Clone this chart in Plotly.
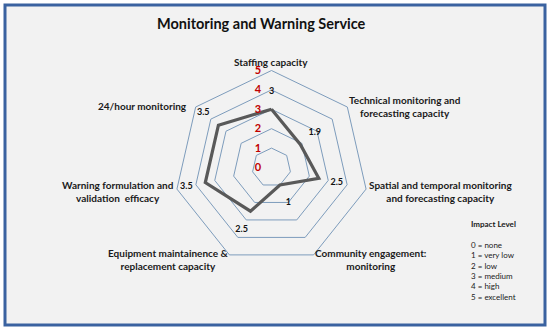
import plotly.graph_objects as go

# ---- data ----
categories = [
    "Staffing capacity",
    "Technical monitoring and<br>forecasting capacity",
    "Spatial and temporal monitoring<br>and forecasting capacity",
    "Community engagement:<br>monitoring",
    "Equipment maintainence &<br>replacement capacity",
    "Warning formulation and<br>validation  efficacy",
    "24/hour monitoring",
]
values = [3, 1.9, 2.5, 1, 2.5, 3.5, 3.5]
value_labels = ["3", "1.9", "2.5", "1", "2.5", "3.5", "3.5"]
radial_ticks = [0, 1, 2, 3, 4, 5]
legend_title = "Impact Level"
legend_lines = ["0 = none", "1 = very low", "2 = low", "3 = medium", "4 = high", "5 = excellent"]

# ---- style / positions ----
label_r = [3.9, 2.85, 3.45, 2.0, 3.55, 4.5, 4.5]
# category label centres in pixels (x, y of first line)
cat_label_pos = [(271, 61), (405, 99), (440, 184), (371, 252), (168, 252), (118, 184), (142, 105)]
FONT = "Lato"
GRID = "#7d9cbc"

W, H = 550, 329
cx, cy, R = 271.5, 167.5, 97


def px(x):
    return x / W


def py(y):
    return 1 - y / H


fig = go.Figure()
fig.add_trace(go.Scatterpolar(
    r=values + values[:1], theta=categories + categories[:1],
    mode="lines", line=dict(color="#595959", width=3.2),
    hoverinfo="skip", showlegend=False,
))
fig.add_trace(go.Scatterpolar(
    r=label_r, theta=categories, mode="text", text=value_labels,
    textfont=dict(family=FONT, size=9, color="#111111", weight="bold"),
    textposition="middle center", hoverinfo="skip", showlegend=False,
))

annotations = [
    dict(text="<b>Monitoring and Warning Service</b>", x=px(261), y=py(23),
         xref="paper", yref="paper", showarrow=False,
         font=dict(family=FONT, size=14.5, color="#111111"),
         xanchor="center", yanchor="middle"),
    dict(text="<b>" + legend_title + "</b><br><br>" + "<br>".join(legend_lines),
         x=px(469), y=py(217), xref="paper", yref="paper",
         showarrow=False, align="left", xanchor="left", yanchor="top",
         font=dict(family=FONT, size=8, color="#1a1a1a")),
]
for name, (lx, ly) in zip(categories, cat_label_pos):
    annotations.append(dict(
        text="<b>" + name + "</b>", x=px(lx), y=py(ly - 7),
        xref="paper", yref="paper", showarrow=False, align="center",
        xanchor="center", yanchor="top",
        font=dict(family=FONT, size=10, color="#1a1a1a"),
    ))

fig.update_layout(
    width=W, height=H,
    margin=dict(l=0, r=0, t=0, b=0),
    paper_bgcolor="white",
    font=dict(family=FONT, color="#1a1a1a"),
    polar=dict(
        domain=dict(x=[(cx - R) / W, (cx + R) / W],
                    y=[(H - cy - R) / H, (H - cy + R) / H]),
        bgcolor="rgba(0,0,0,0)",
        gridshape="linear",
        radialaxis=dict(
            range=[0, 5], tickvals=radial_ticks, angle=90, tickangle=90,
            side="counterclockwise",
            showline=False, ticks="outside", ticklen=6,
            tickcolor="rgba(0,0,0,0)", showticklabels=True,
            tickfont=dict(family=FONT, size=11, color="#c00000", weight="bold"),
            gridcolor=GRID, gridwidth=1,
        ),
        angularaxis=dict(
            direction="clockwise", rotation=90, showgrid=False,
            showline=True, linecolor=GRID, linewidth=1, ticks="",
            showticklabels=False,
        ),
    ),
    shapes=[dict(type="rect", xref="paper", yref="paper",
                 x0=px(5), x1=px(545), y0=py(325), y1=py(5),
                 fillcolor="#f2f2f2", line=dict(color="#3a62a0", width=3),
                 layer="below")],
    annotations=annotations,
)

fig.write_html("out.html", config={"displayModeBar": False},
               post_script="document.body.style.margin='0';")
